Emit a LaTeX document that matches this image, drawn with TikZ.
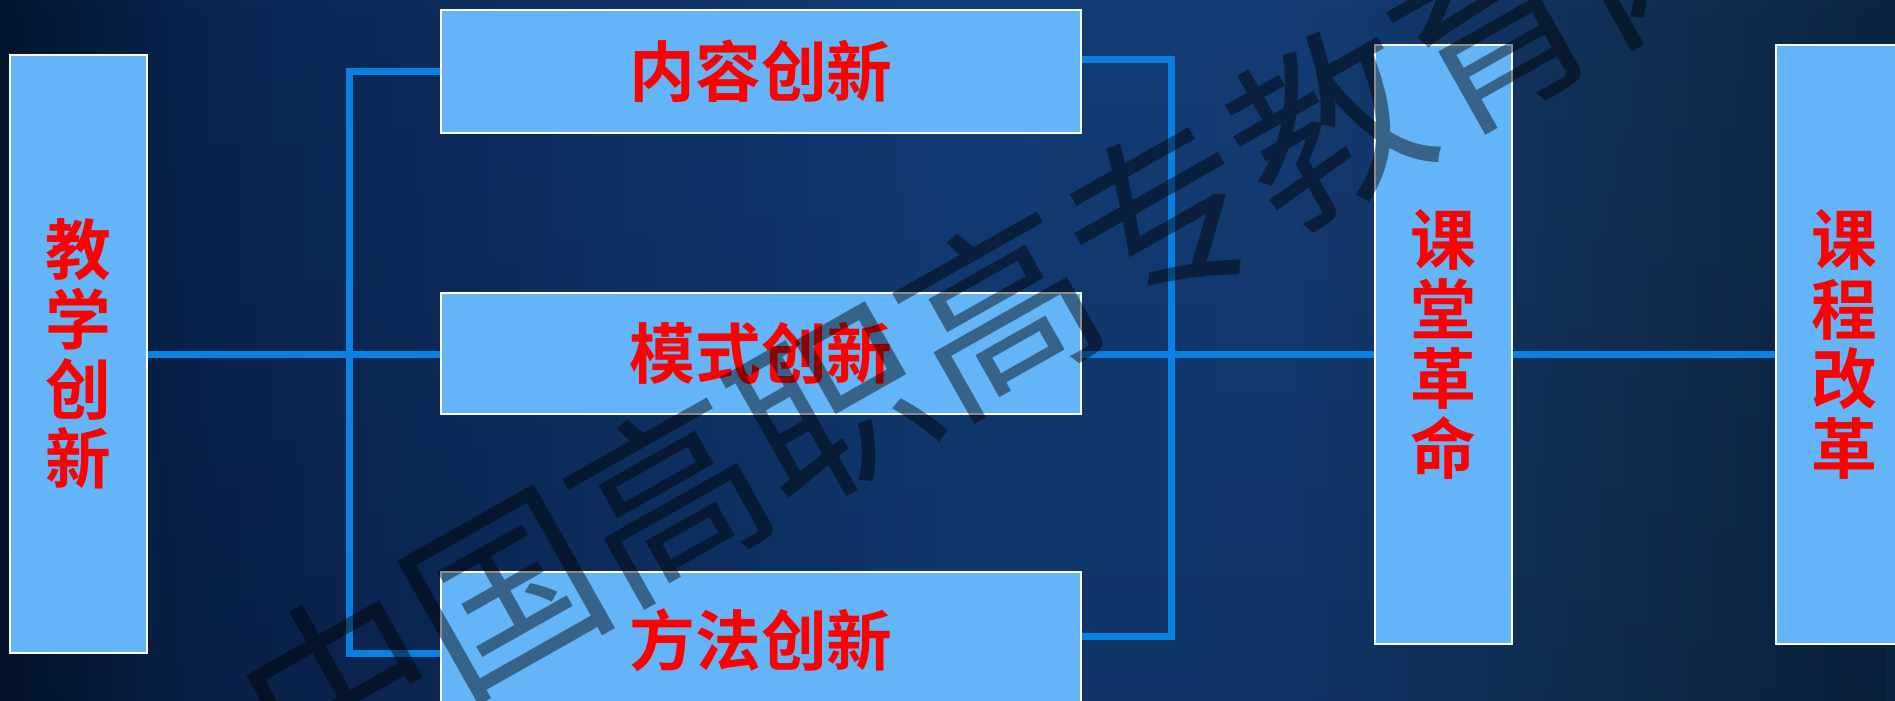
\documentclass[tikz,border=0pt]{standalone}
\usepackage{fontspec}
\newfontfamily\cjk{Noto Sans CJK SC}
\newfontfamily\cjkbold{Noto Sans CJK SC Bold}
\usetikzlibrary{fadings}
\definecolor{boxfill}{RGB}{99,181,247}
\definecolor{linkblue}{RGB}{10,128,226}
\definecolor{labelred}{RGB}{255,0,0}
\pgfdeclarehorizontalshading{bgshade}{100bp}{%
  rgb(0bp)=(0.012,0.078,0.180);
  rgb(25bp)=(0.012,0.078,0.180);
  rgb(30bp)=(0.039,0.141,0.314);
  rgb(50bp)=(0.071,0.235,0.463);
  rgb(59bp)=(0.078,0.235,0.455);
  rgb(67.5bp)=(0.071,0.188,0.337);
  rgb(75bp)=(0.047,0.141,0.259);
  rgb(100bp)=(0.047,0.141,0.259)}
\begin{document}
\begin{tikzpicture}[x=1bp,y=-1bp,
  box/.style={draw=white, line width=2bp, fill=boxfill, inner sep=0pt,
    text=labelred, font=\cjkbold\fontsize{66}{70}\selectfont, align=center},
  hbox/.style={box, minimum width=640bp},
  vbox/.style={box, minimum width=137bp, minimum height=599bp},
  link/.style={draw=linkblue, line width=7bp},
  watermark/.style={text=black, opacity=0.45, text opacity=0.45,
    font=\cjk\fontsize{190}{190}\selectfont, rotate=29.5, inner sep=0pt}]
\useasboundingbox (0,0) rectangle (1895,701);
\begin{scope}
\clip (0,0) rectangle (1895,701);
\shade[shading=bgshade] (0,0) rectangle (1895,701);
\fill[black, opacity=0.12, path fading=north] (0,0) rectangle (1895,701);

% nodes
\node[vbox, minimum height=598bp] (A) at (78.5,354) {教\\学\\创\\新};
\node[hbox, minimum height=123bp] (B1) at (761,71.5) {内容创新};
\node[hbox, minimum height=121bp] (B2) at (761,353.5) {模式创新};
\node[hbox, minimum height=140bp] (B3) at (761,642) {\raisebox{9bp}{方法创新}};
\node[vbox] (C) at (1443.5,344.5) {课\\堂\\革\\命};
\node[vbox] (D) at (1844.5,344.5) {课\\程\\改\\革};

% connectors
\coordinate (lt) at (349,71.5);
\coordinate (lb) at (349,653);
\coordinate (rt) at (1171,59.5);
\coordinate (rb) at (1171,636);
\coordinate (mid) at (1171,354.5);
\draw[link] (B1.west) -- (lt) -- (lb) -- (lb -| B3.west);
\draw[link] (A.east) -- (A.east -| B2.west);
\draw[link] (B1.east |- rt) -- (rt) -- (rb) -- (rb -| B3.east);
\draw[link] (B2.east |- mid) -- (mid -| C.west);
\draw[link] (C.east |- mid) -- (mid -| D.west);

% watermark
\node[watermark] (wm) at (998,311) {中国高职高专教育网};
\end{scope}
\end{tikzpicture}
\end{document}
